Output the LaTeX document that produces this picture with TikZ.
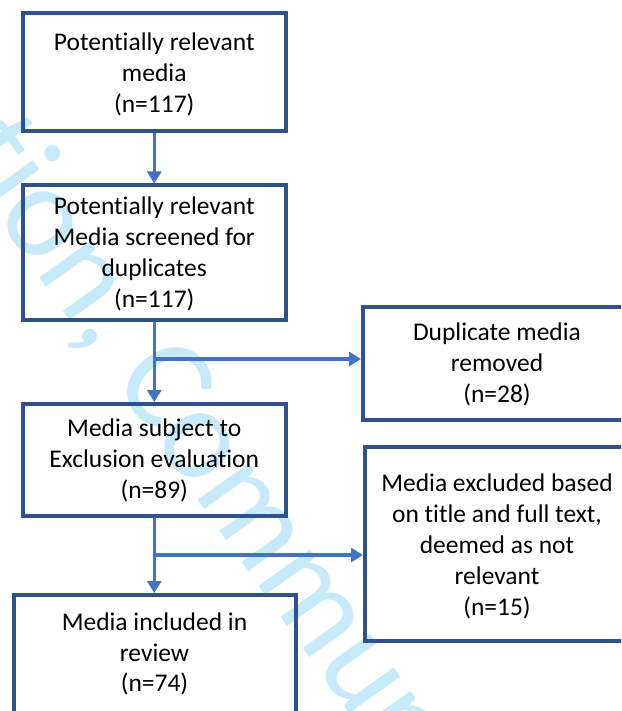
\documentclass[tikz,border=0pt]{standalone}
\usepackage{fontspec}
\setmainfont{Carlito}[RawFeature={-liga;-clig;-dlig;-calt}]
\usetikzlibrary{arrows.meta}
\definecolor{boxblue}{RGB}{47,82,143}
\definecolor{arrowblue}{RGB}{68,114,196}
\definecolor{wmark}{RGB}{198,234,250}
\newcommand{\boxtext}[2][2pt]{\raisebox{-#1}[\height][\depth]{\parbox[c]{255pt}{\centering\fontsize{25.5}{31}\selectfont #2}}}
\tikzset{
  flowbox/.style={draw=boxblue, line width=4pt, align=center, inner sep=0pt, text=black},
  flowarrow/.style={draw=arrowblue, line width=3.5pt,
    -{Triangle[length=12pt,width=14pt]}}
}
\begin{document}
\begin{tikzpicture}[x=1pt,y=1pt]
\useasboundingbox (0,0) rectangle (621,-711);
\clip (0,0) rectangle (621,-711);
\fill[white] (0,0) rectangle (621,-711);
% watermark
\node[anchor=base west, rotate=-54.6, inner sep=0pt, text=wmark,
  font=\fontsize{132}{132}\selectfont] (wm) at (-49,-153) {tion, Commun};
% boxes
\node[flowbox, minimum width=263.5, minimum height=117.5] (b1) at (154.25,-72.25)
  {\boxtext[2.5pt]{Potent\kern0pt ially relevant\\ media\\ (n=117)}};
\node[flowbox, minimum width=263.5, minimum height=134.5] (b2) at (154.25,-252.75)
  {\boxtext[1.5pt]{Potent\kern0pt ially relevant\\ Media screened for\\ duplicates\\ (n=117)}};
\node[flowbox, minimum width=268, minimum height=113] (b3) at (497,-363)
  {\boxtext[1.5pt]{Duplicate media\\ removed\\ (n=28)}};
\node[flowbox, minimum width=263.5, minimum height=111.5] (b4) at (154.25,-459.75)
  {\boxtext[1pt]{Media subject to\\ Exclusion evaluation\\ (n=89)}};
\node[flowbox, minimum width=264, minimum height=194] (b6) at (497,-544)
  {\boxtext[2.5pt]{Media excluded based\\ on t\kern0pt itle and full text,\\ deemed as not\\ relevant\\ (n=15)}};
\node[flowbox, minimum width=282, minimum height=118] (b5) at (154.5,-654)
  {\boxtext[0pt]{\fontsize{25.5}{30.5}\selectfont Media included in\\ review\\ (n=74)}};
% connectors
\draw[flowarrow] (b1) -- (b2);
\draw[flowarrow] (b2) -- (b4);
\coordinate (j1) at (154.25,-359);
\draw[flowarrow] (j1) -- (j1 -| b3.west);
\draw[flowarrow] (b4) -- (b4 |- b5.north);
\coordinate (j2) at (154.25,-555);
\draw[flowarrow] (j2) -- (j2 -| b6.west);
\end{tikzpicture}
\end{document}
